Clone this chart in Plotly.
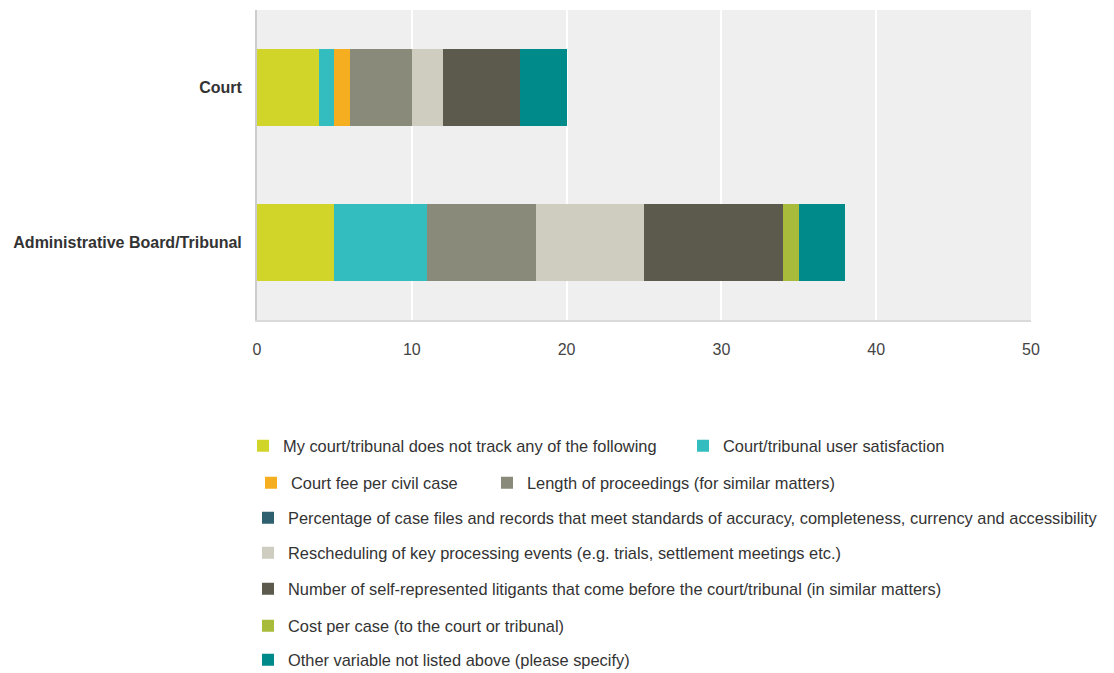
import plotly.graph_objects as go

categories = ["Court", "Administrative Board/Tribunal"]
series_names = [
    "My court/tribunal does not track any of the following",
    "Court/tribunal user satisfaction",
    "Court fee per civil case",
    "Length of proceedings (for similar matters)",
    "Percentage of case files and records that meet standards of accuracy, completeness, currency and accessibility",
    "Rescheduling of key processing events (e.g. trials, settlement meetings etc.)",
    "Number of self-represented litigants that come before the court/tribunal (in similar matters)",
    "Cost per case (to the court or tribunal)",
    "Other variable not listed above (please specify)",
]
court_values = [4, 1, 1, 4, 0, 2, 5, 0, 3]
admin_values = [5, 6, 0, 7, 0, 7, 9, 1, 3]
x_ticks = [0, 10, 20, 30, 40, 50]

colors = ["#d1d52a", "#34bdbf", "#f6ae21", "#8a8a7a", "#2f6070",
          "#cfcdbf", "#5c5a4c", "#a8bb3a", "#008a8a"]

# page has an 8px body margin; figure coords = page coords - 8
W, H = 1106, 665
OFF = 8
# legend box left edges and row centers (page px)
legend_pos = [(243, 446), (683, 446), (251, 483), (487, 483), (248, 518),
              (248, 553), (248, 589), (248, 626), (248, 660)]

fig = go.Figure()
for i, name in enumerate(series_names):
    lid = "legend" if i == 0 else f"legend{i+1}"
    fig.add_trace(go.Bar(
        y=categories, x=[court_values[i], admin_values[i]],
        name=name, orientation="h", marker=dict(color=colors[i], line=dict(width=0)),
        legend=lid, showlegend=True,
    ))

font_family = "Liberation Sans, Arial, sans-serif"
layout_legends = {}
for i, (px, py) in enumerate(legend_pos):
    lid = "legend" if i == 0 else f"legend{i+1}"
    layout_legends[lid] = dict(
        x=(px - OFF) / W, y=1 - (py - OFF) / H, xref="container", yref="container",
        xanchor="left", yanchor="middle", bgcolor="rgba(0,0,0,0)",
        borderwidth=0,
        font=dict(family=font_family, size=16.4, color="#333333"),
        itemclick=False, itemdoubleclick=False,
    )

fig.update_layout(
    width=W, height=H,
    margin=dict(l=249, r=83, t=2, b=353, pad=0, autoexpand=False),
    barmode="stack", bargap=0.5,
    plot_bgcolor="#efefef", paper_bgcolor="#ffffff",
    xaxis=dict(range=[0, 50], tickvals=x_ticks, showgrid=True, gridcolor="#ffffff",
               gridwidth=2, zeroline=False, showline=True, linecolor="#dadada", linewidth=2,
               ticks="", ticklabelstandoff=14,
               tickfont=dict(family=font_family, size=16, color="#444444")),
    yaxis=dict(autorange="reversed", showgrid=False, zeroline=False, showline=True,
               linecolor="#cccccc", linewidth=2, ticks="", ticklabelstandoff=10,
               tickfont=dict(family=font_family, size=16,
                             color="#333333", weight="bold")),
    **layout_legends,
)
fig.write_html("out.html")
